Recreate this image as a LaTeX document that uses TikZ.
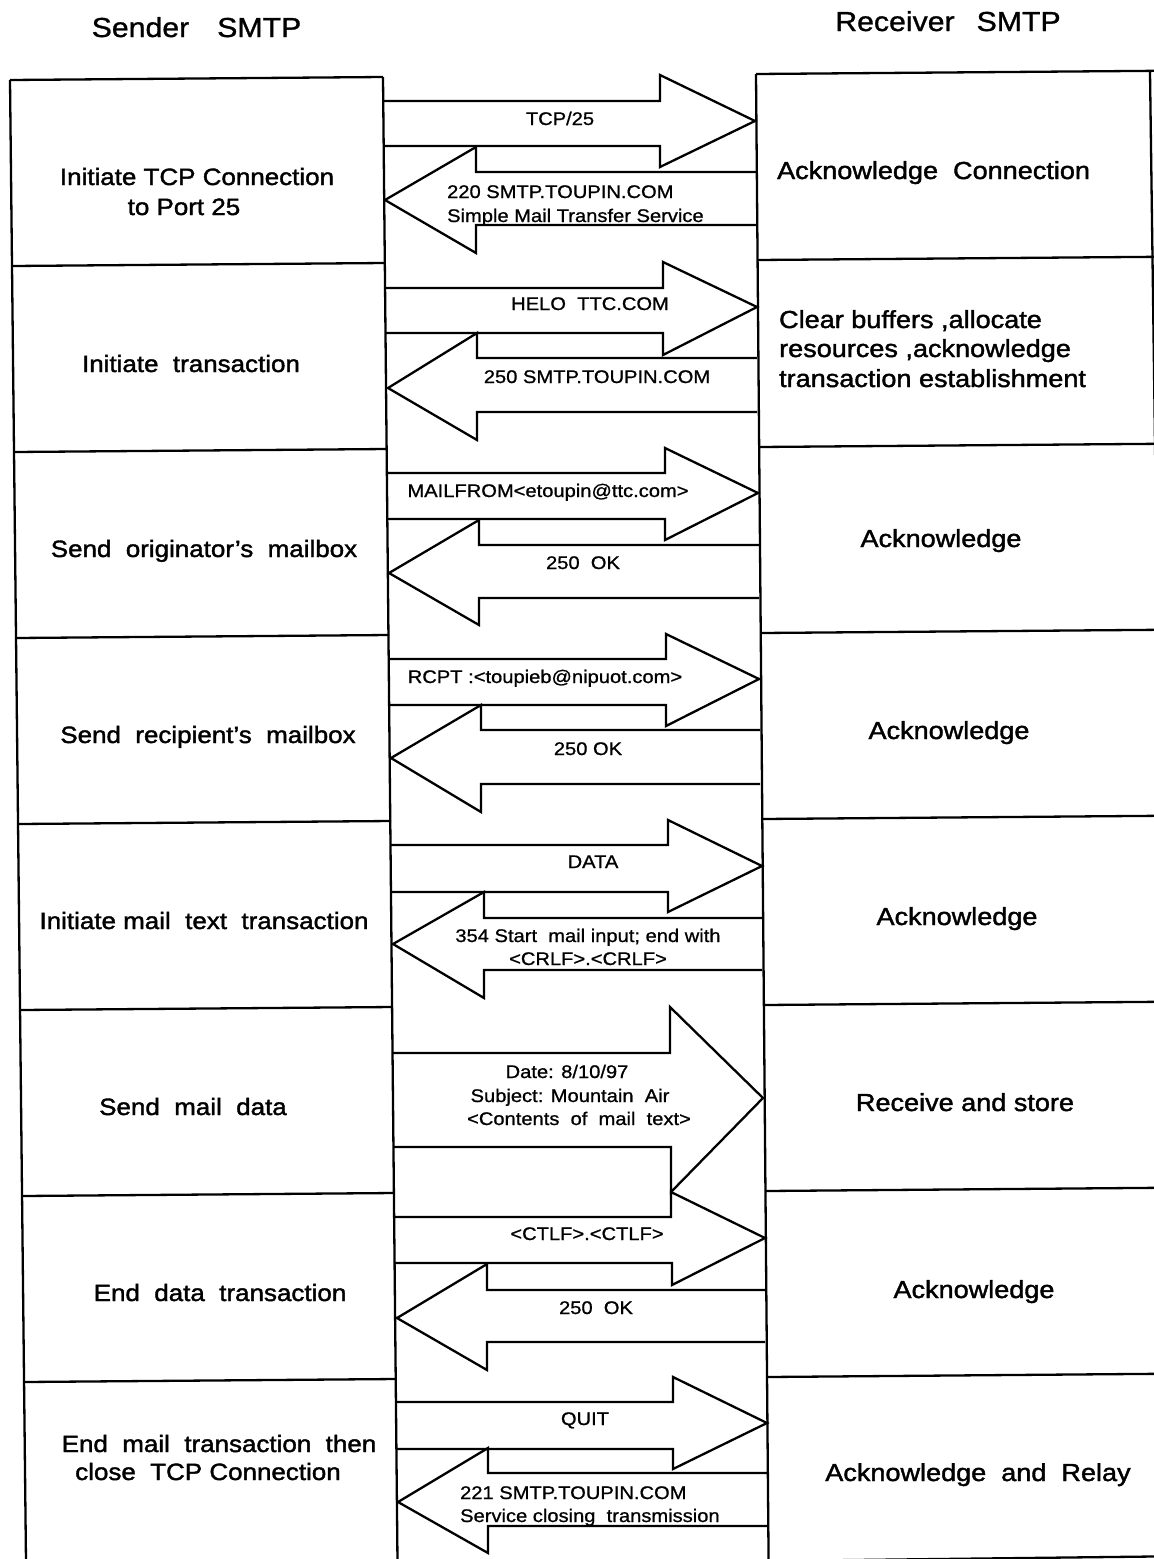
\documentclass[tikz,border=0pt]{standalone}
\usepackage{fontspec}
\setmainfont{Liberation Sans}[FakeStretch=1.1]
\newfontfamily\boxfont{Liberation Sans}[FakeStretch=1.1,FakeBold=1.6,Ligatures=TeX]
\newfontfamily\ttlfont{Liberation Sans}[FakeStretch=1.1,FakeBold=1.0,Ligatures=TeX]
\newfontfamily\arrfont{Liberation Sans}[FakeStretch=1.1,FakeBold=0.9,Ligatures=TeX]
\begin{document}
\begin{tikzpicture}[x=1pt,y=-1pt,line width=2.3pt,line join=miter,
  llbl/.style={font=\boxfont\fontsize{23.6}{28}\selectfont,anchor=base,inner sep=0pt},
  rlbl/.style={font=\boxfont\fontsize{24.6}{30}\selectfont,anchor=base,inner sep=0pt},
  rlblw/.style={rlbl,anchor=base west},
  albl/.style={font=\arrfont\fontsize{18.3}{22}\selectfont,anchor=base,inner sep=0pt},
  alblw/.style={albl,anchor=base west},
  ttlbl/.style={font=\ttlfont\fontsize{27.5}{32}\selectfont,anchor=base,inner sep=0pt}]
\useasboundingbox (0,0) rectangle (1154,1559);
\fill[white] (0,0) rectangle (1154,1559);
\clip (0,0) rectangle (1154,1559);

% titles
\node[ttlbl] (tsend) at (196.5,37) {Sender\hspace{28pt}SMTP};
\node[ttlbl] (trecv) at (948,31) {Receiver\hspace{22pt}SMTP};

% left column
\draw (10,80) -- (26,1562);
\draw (383,77) -- (397.5,1562);
\draw (10,80) -- (383,77);
\draw (12,266) -- (385,263);
\draw (14,452) -- (387,449);
\draw (16,638) -- (389,635);
\draw (18,824) -- (391,821);
\draw (20,1010) -- (393,1007);
\draw (22,1196) -- (394.5,1193);
\draw (24,1382) -- (396,1379);

% right column
\draw (756,74) -- (768.6,1562);
\draw (1150,72) -- (1170,1562);
\draw (756,74) -- (1170,70.7);
\draw (757.6,260) -- (1170,256.7);
\draw (759.2,447) -- (1170,443.7);
\draw (760.8,633) -- (1170,629.7);
\draw (762.3,819) -- (1170,815.7);
\draw (763.9,1005) -- (1170,1001.7);
\draw (765.5,1191) -- (1170,1187.7);
\draw (767.1,1377) -- (1170,1373.7);
\draw (768.6,1561) -- (1170,1556.3);

% arrows
\draw (384,101) -- (660,101) -- (660,75) -- (755,121) -- (660,167) -- (660,146) -- (384,146);
\draw (756,172) -- (476,172) -- (476,147) -- (385,200) -- (476,253) -- (476,225) -- (756,225);
\draw (385,288) -- (663,288) -- (663,262) -- (757,307) -- (663,355) -- (663,333) -- (385,333);
\draw (757,358) -- (477,358) -- (477,333) -- (388,388) -- (477,440) -- (477,412) -- (757,412);
\draw (387,473) -- (665,473) -- (665,448) -- (758,493) -- (665,540) -- (665,519) -- (387,519);
\draw (759,545) -- (479,545) -- (479,520) -- (389,573) -- (479,625) -- (479,598) -- (759,598);
\draw (389,659) -- (666,659) -- (666,634) -- (759,679) -- (666,726) -- (666,705) -- (389,705);
\draw (760,730) -- (481,730) -- (481,705) -- (391,758) -- (481,812) -- (481,784) -- (760,784);
\draw (391,845) -- (668,845) -- (668,820) -- (762,866) -- (668,912) -- (668,892) -- (391,892);
\draw (762,918) -- (484,918) -- (484,892) -- (393,944) -- (484,998) -- (484,970) -- (762,970);
\draw (393,1053) -- (670,1053) -- (670,1007) -- (763,1098) -- (671,1192) -- (671,1147) -- (393,1147);
\draw (395,1217) -- (671,1217) -- (671,1192) -- (765,1238) -- (672,1285) -- (672,1263) -- (395,1263);
\draw (765,1290) -- (487,1290) -- (487,1264) -- (397,1318) -- (487,1370) -- (487,1342) -- (765,1342);
\draw (396,1402) -- (673,1402) -- (673,1377) -- (767,1423) -- (673,1469) -- (673,1449) -- (396,1449);
\draw (767,1473) -- (488,1473) -- (488,1448) -- (398,1502) -- (488,1553) -- (488,1526) -- (767,1526);

% left labels
\node[llbl] (s1a) at (197,185) {Initiate TCP Connection};
\node[llbl] (s1b) at (184,215) {to Port 25};
\node[llbl] (s2) at (191,372) {Initiate~~transaction};
\node[llbl] (s3) at (204,557) {Send~~originator’s~~mailbox};
\node[llbl] (s4) at (208,743) {Send~~recipient’s~~mailbox};
\node[llbl] (s5) at (204,929) {Initiate mail~~text~~transaction};
\node[llbl] (s6) at (193,1115) {Send~~mail~~data};
\node[llbl] (s7) at (220,1301) {End~~data~~transaction};
\node[llbl] (s8a) at (219,1452) {End~~mail~~transaction~~then};
\node[llbl] (s8b) at (208,1480) {close~~TCP Connection};

% right labels
\node[rlblw] (r1) at (776,179) {Acknowledge~~Connection};
\node[rlblw] (r2a) at (778,328) {Clear buffers ,allocate};
\node[rlblw] (r2b) at (778,357) {resources ,acknowledge};
\node[rlblw] (r2c) at (778,387) {transaction establishment};
\node[rlbl] (r3) at (941,547) {Acknowledge};
\node[rlbl] (r4) at (949,739) {Acknowledge};
\node[rlbl] (r5) at (957,925) {Acknowledge};
\node[rlbl] (r6) at (965,1111) {Receive and store};
\node[rlbl] (r7) at (974,1298) {Acknowledge};
\node[rlbl] (r8) at (978,1481) {Acknowledge~~and~~Relay};

% arrow labels
\node[albl] (m1a) at (560,125) {TCP/25};
\node[alblw] (m1b) at (446,198) {220 SMTP.TOUPIN.COM};
\node[alblw] (m1c) at (446,222) {Simple Mail Transfer Service};
\node[albl] (m2a) at (590,310) {HELO~~TTC.COM};
\node[albl] (m2b) at (597,383) {250 SMTP.TOUPIN.COM};
\node[albl] (m3a) at (548,497) {MAILFROM<etoupin@ttc.com>};
\node[albl] (m3b) at (583,569) {250~~OK};
\node[albl] (m4a) at (545,683) {RCPT :<toupieb@nipuot.com>};
\node[albl] (m4b) at (588,755) {250 OK};
\node[albl] (m5a) at (593,868) {DATA};
\node[albl] (m5b) at (588,942) {354 Start~~mail input; end with};
\node[albl] (m5c) at (588,965) {<CRLF>.<CRLF>};
\node[albl] (m6a) at (567,1078) {Date: 8/10/97};
\node[albl] (m6b) at (570,1102) {Subject: Mountain~~Air};
\node[albl] (m6c) at (579,1125) {<Contents~~of~~mail~~text>};
\node[albl] (m7a) at (587,1240) {<CTLF>.<CTLF>};
\node[albl] (m7b) at (596,1314) {250~~OK};
\node[albl] (m8a) at (585,1425) {QUIT};
\node[alblw] (m8b) at (459,1499) {221 SMTP.TOUPIN.COM};
\node[alblw] (m8c) at (459,1522) {Service closing~~transmission};
\end{tikzpicture}
\end{document}
